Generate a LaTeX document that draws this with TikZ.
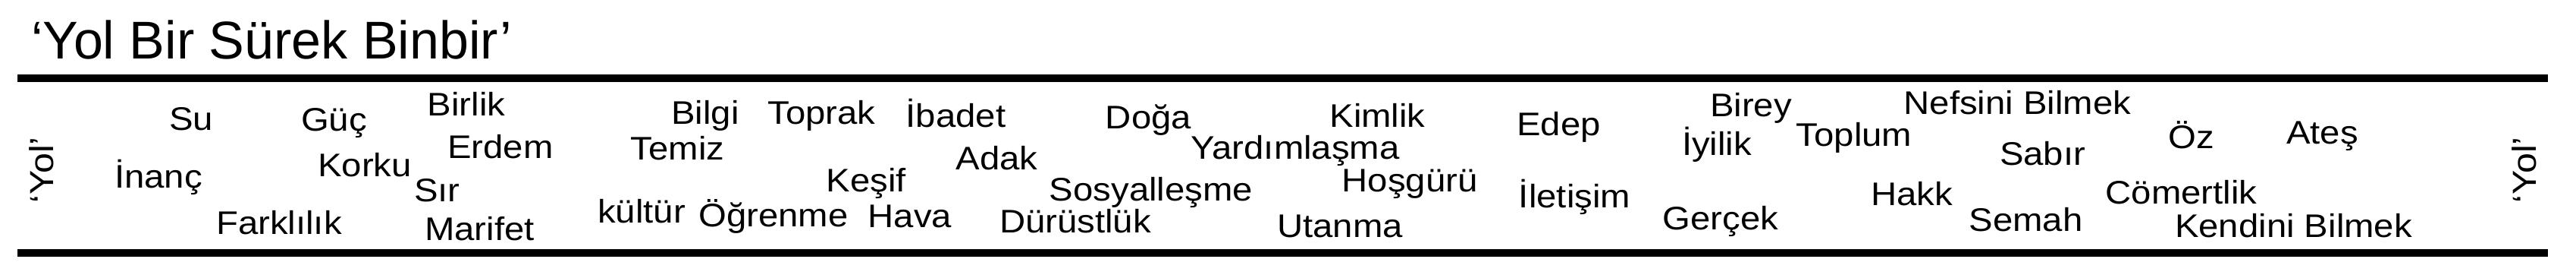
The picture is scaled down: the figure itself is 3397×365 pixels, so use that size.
\documentclass[tikz,border=0pt]{standalone}
\usepackage{fontspec}
\setmainfont{Liberation Sans}
\newfontfamily\wordfont{Liberation Sans}[FakeStretch=1.1]
\begin{document}
\begin{tikzpicture}[x=1pt,y=-1pt,
  word/.style={anchor=base,inner sep=0pt,font=\wordfont\fontsize{43}{48}\selectfont},
  yol/.style={anchor=base,inner sep=0pt,rotate=90,font=\wordfont\fontsize{44}{48}\selectfont},
  titletext/.style={anchor=base west,inner sep=0pt,font=\fontsize{70}{80}\selectfont},
  rulebar/.style={line width=10pt,black}]
\useasboundingbox (0,0) rectangle (3397,365);
\node[titletext] (title) at (41,77) {‘Yol Bir Sürek Binbir’};
\coordinate (tl) at (23,103);
\coordinate (tr) at (3360,103);
\coordinate (bl) at (23,333);
\coordinate (br) at (3360,333);
\draw[rulebar] (tl) -- (tr);
\draw[rulebar] (bl) -- (br);
\node[yol] (yolL) at (70,224) {‘Yol’};
\node[yol] (yolR) at (3344,224) {‘Yol’};
\node[word] (su) at (252,171) {Su};
\node[word] (guc) at (440.5,172) {Güç};
\node[word] (birlik) at (615,152) {Birlik};
\node[word] (inanc) at (209,247) {İnanç};
\node[word] (korku) at (481,232) {Korku};
\node[word] (erdem) at (660,208) {Erdem};
\node[word] (sir) at (576.5,265) {Sır};
\node[word] (farklilik) at (368,308) {Farklılık};
\node[word] (marifet) at (632.5,316) {Marifet};
\node[word] (kultur) at (846,293) {kültür};
\node[word] (bilgi) at (930,163) {Bilgi};
\node[word] (toprak) at (1083.5,163) {Toprak};
\node[word] (ibadet) at (1260.5,167) {İbadet};
\node[word] (doga) at (1514.5,169) {Doğa};
\node[word] (temiz) at (893.5,210) {Temiz};
\node[word] (adak) at (1314.5,223) {Adak};
\node[word] (yardimlasma) at (1708,209) {Yardımlaşma};
\node[word] (kesif) at (1142.5,252) {Keşif};
\node[word] (sosyallesme) at (1518,264) {Sosyalleşme};
\node[word] (ogrenme) at (1020,298) {Öğrenme};
\node[word] (hava) at (1200,299) {Hava};
\node[word] (durustluk) at (1418,306) {Dürüstlük};
\node[word] (kimlik) at (1816.5,167) {Kimlik};
\node[word] (hosguru) at (1859,252) {Hoşgürü};
\node[word] (utanma) at (1767,312) {Utanma};
\node[word] (edep) at (2055.5,178) {Edep};
\node[word] (iletisim) at (2076.5,273) {İletişim};
\node[word] (birey) at (2309,153) {Birey};
\node[word] (iyilik) at (2264,204) {İyilik};
\node[word] (toplum) at (2445,192) {Toplum};
\node[word] (gercek) at (2269,302) {Gerçek};
\node[word] (hakk) at (2521,270) {Hakk};
\node[word] (nefsini) at (2660.5,150) {Nefsini Bilmek};
\node[word] (sabir) at (2693.5,217) {Sabır};
\node[word] (oz) at (2889.5,195) {Öz};
\node[word] (ates) at (3062.5,189) {Ateş};
\node[word] (comertlik) at (2876.5,268) {Cömertlik};
\node[word] (semah) at (2671.5,304) {Semah};
\node[word] (kendini) at (3024.5,312) {Kendini Bilmek};
\end{tikzpicture}
\end{document}
